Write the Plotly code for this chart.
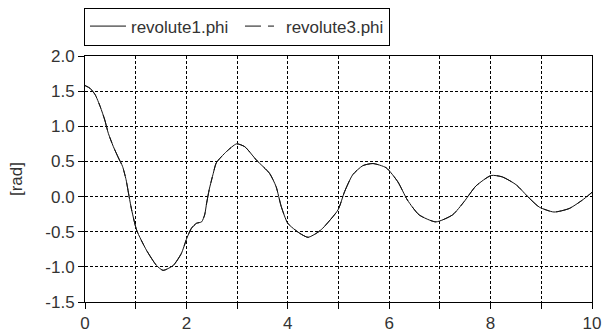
import plotly.graph_objects as go

# time [s]
t = [0, 0.1, 0.2, 0.3, 0.39, 0.46, 0.56, 0.66, 0.74, 0.81, 0.87, 0.92, 1.02, 1.21, 1.41, 1.54,
     1.74, 1.90, 2.01, 2.10, 2.20, 2.30, 2.36, 2.40, 2.45, 2.53, 2.59, 2.79, 2.99, 3.15, 3.38,
     3.64, 3.77, 3.87, 4.00, 4.23, 4.40, 4.59, 4.69, 4.99, 5.12, 5.28, 5.48, 5.68, 5.94, 6.17,
     6.36, 6.59, 6.92, 7.25, 7.48, 7.71, 8.01, 8.23, 8.50, 8.76, 8.96, 9.25, 9.55, 9.81, 10.0]

revolute1_phi = [1.58, 1.54, 1.45, 1.28, 1.09, 0.90, 0.71, 0.55, 0.43, 0.24, 0.0, -0.19, -0.48,
                 -0.76, -0.98, -1.05, -0.98, -0.81, -0.59, -0.45, -0.38, -0.36, -0.26, -0.09,
                 0.10, 0.33, 0.48, 0.64, 0.75, 0.71, 0.52, 0.33, 0.14, -0.14, -0.38, -0.52,
                 -0.58, -0.51, -0.45, -0.19, 0.07, 0.31, 0.44, 0.47, 0.41, 0.21, -0.05, -0.26,
                 -0.36, -0.26, -0.07, 0.15, 0.30, 0.28, 0.17, -0.02, -0.15, -0.22, -0.17,
                 -0.05, 0.06]

# revolute3.phi coincides with revolute1.phi in the reference
revolute3_phi = list(revolute1_phi)

x_tickvals = [0, 1, 2, 3, 4, 5, 6, 7, 8, 9, 10]
x_ticktext = ["0", "", "2", "", "4", "", "6", "", "8", "", "10"]
y_tickvals = [-1.5, -1.0, -0.5, 0.0, 0.5, 1.0, 1.5, 2.0]
y_ticktext = ["-1.5", "-1.0", "-0.5", "0.0", "0.5", "1.0", "1.5", "2.0"]

FONT = "Liberation Sans, Arial, sans-serif"
TXT = "#333333"

fig = go.Figure()
fig.add_trace(go.Scatter(x=t, y=revolute1_phi, mode="lines", name="revolute1.phi",
                         legendwidth=104,
                         line=dict(color="#111111", width=1, shape="spline", smoothing=0.6)))
fig.add_trace(go.Scatter(x=t, y=revolute3_phi, mode="lines", name="revolute3.phi",
                         legendwidth=98,
                         line=dict(color="#111111", width=1, shape="spline", smoothing=0.6,
                                   dash="16px,7px,6px,7px")))

axis_common = dict(showline=True, mirror=True, linecolor="black", linewidth=1,
                   ticks="outside", ticklen=6, tickcolor="black", tickwidth=1,
                   showgrid=True, gridcolor="black", gridwidth=1, griddash="3px,2px",
                   zeroline=False, automargin=False,
                   tickfont=dict(family=FONT, size=17, color=TXT))

fig.update_xaxes(range=[0, 10], tickmode="array", tickvals=x_tickvals, ticktext=x_ticktext,
                 **axis_common)
fig.update_yaxes(range=[-1.5, 2.0], tickmode="array", tickvals=y_tickvals, ticktext=y_ticktext,
                 title=dict(text="[rad]", font=dict(family=FONT, size=17, color=TXT), standoff=18),
                 **axis_common)

fig.update_layout(
    width=616, height=336,
    margin=dict(l=85, r=24, t=56, b=34, autoexpand=False),
    paper_bgcolor="white", plot_bgcolor="white",
    font=dict(family=FONT, size=17, color=TXT),
    showlegend=True,
    legend=dict(orientation="h", x=-0.002, y=1.197, xanchor="left", yanchor="top",
                bordercolor="black", borderwidth=1, bgcolor="white",
                font=dict(family=FONT, size=17, color=TXT),
                itemwidth=36, tracegroupgap=0),
)

fig.write_html("out.html")
